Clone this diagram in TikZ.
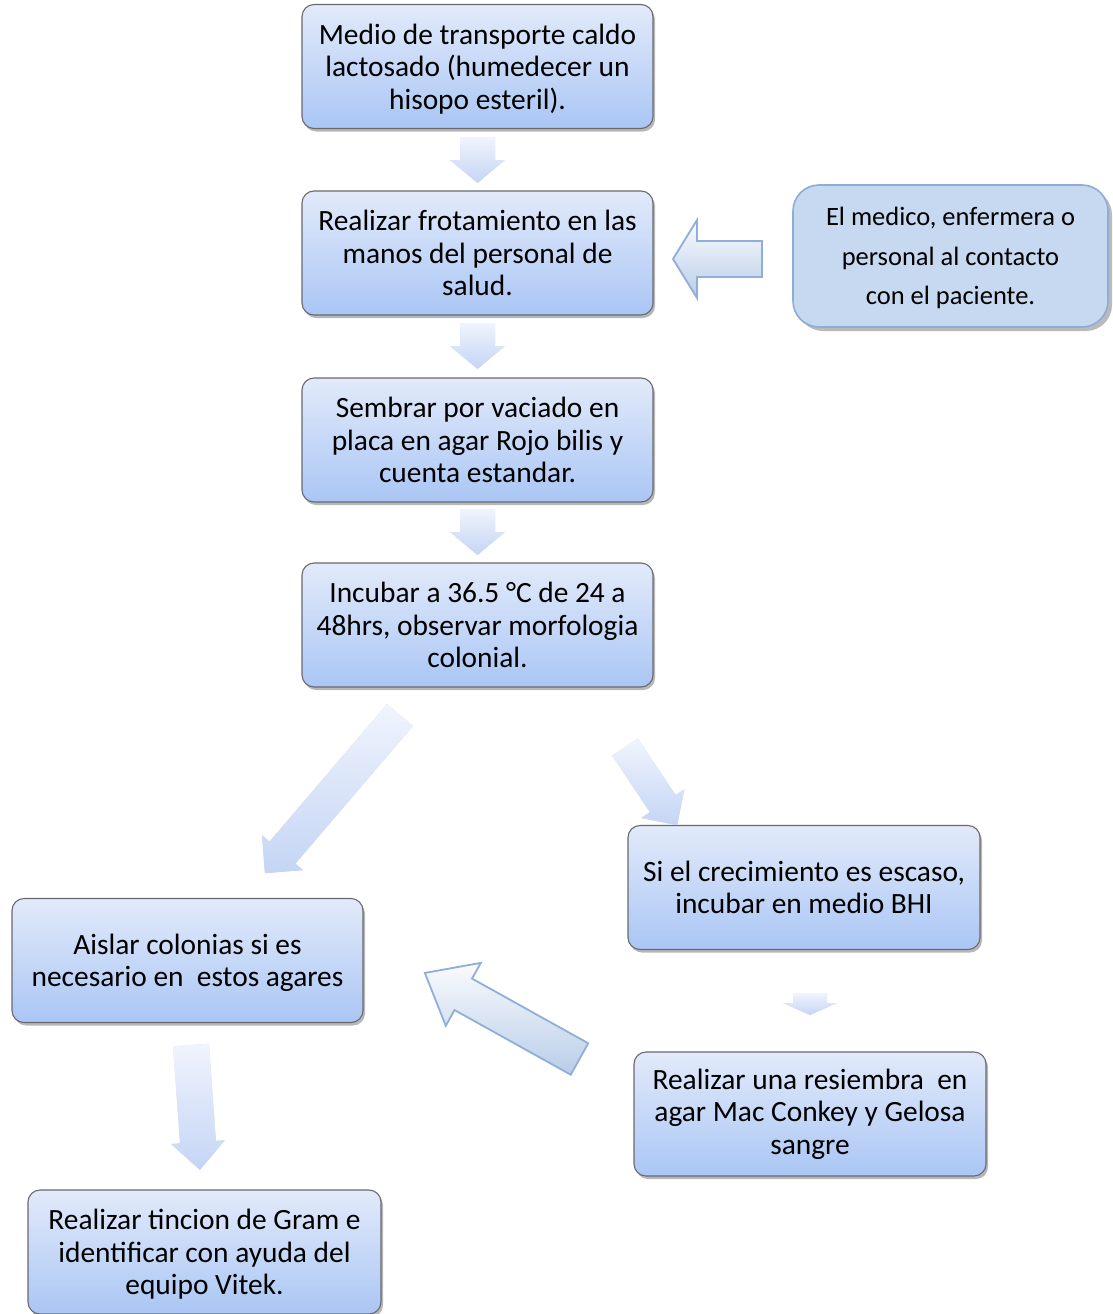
\documentclass[tikz,border=0pt]{standalone}
\usepackage{fontspec}
\setmainfont{Carlito}
\usetikzlibrary{shadows}
\definecolor{boxtop}{RGB}{226,234,250}
\definecolor{boxbot}{RGB}{170,198,245}
\definecolor{boxborder}{RGB}{105,105,110}
\definecolor{sidefill}{RGB}{198,217,241}
\definecolor{sideborder}{RGB}{141,173,214}
\definecolor{arrtop}{RGB}{240,244,253}
\definecolor{arrbot}{RGB}{196,213,245}
\definecolor{larrtop}{RGB}{250,251,254}
\definecolor{larrbot}{RGB}{185,205,232}
\definecolor{larrborder}{RGB}{143,174,218}
\tikzset{
  stepbox/.style={draw=boxborder, line width=1.1pt, rounded corners=12pt,
    top color=boxtop, bottom color=boxbot, minimum height=124pt, inner sep=0pt,
    align=center, font=\fontsize{29.4}{32.5}\selectfont,
    drop shadow={shadow xshift=2pt, shadow yshift=-3pt, opacity=0.4, fill=black!70}},
  sidebox/.style={draw=sideborder, line width=1.6pt, rounded corners=26pt,
    fill=sidefill, minimum width=315pt, minimum height=142pt, inner sep=0pt,
    align=center, font=\fontsize{26.5}{39.5}\selectfont,
    drop shadow={shadow xshift=4pt, shadow yshift=-4pt, opacity=0.6, fill=black!45}},
  softarrow/.style={top color=arrtop, bottom color=arrbot},
  linearrow/.style={top color=larrtop, bottom color=larrbot, draw=larrborder,
    line width=1.8pt, line join=miter},
  arrshadow/.style={fill=black, opacity=0.15},
}
% last line with no depth
\newcommand{\nodepth}[1]{\raisebox{0pt}[\height][0pt]{#1}}
% #1 style, #2 start coordinate, #3 angle, #4 length, #5 shaft half width,
% #6 head half width, #7 head length
\newcommand{\blockarr}[7]{%
  \begin{scope}[xshift=2.5pt, yshift=-3pt, shift={#2}, rotate=#3]
    \fill[arrshadow] (0,#5) -- ({#4-#7},#5) -- ({#4-#7},#6) -- (#4,0)
      -- ({#4-#7},-#6) -- ({#4-#7},-#5) -- (0,-#5) -- cycle;
  \end{scope}
  \begin{scope}[shift={#2}, rotate=#3]
    \path[#1] (0,#5) -- ({#4-#7},#5) -- ({#4-#7},#6) -- (#4,0)
      -- ({#4-#7},-#6) -- ({#4-#7},-#5) -- (0,-#5) -- cycle;
  \end{scope}}
\begin{document}
\begin{tikzpicture}[x=1pt, y=-1pt]
\useasboundingbox (0,0) rectangle (1112,1314);

% boxes
\node[stepbox, minimum width=351pt] (b1) at (477.5,66.5)
  {Medio de transporte caldo\\lactosado (humedecer un\\\nodepth{hisopo esteril).}};
\node[stepbox, minimum width=351pt] (b2) at (477.5,253)
  {Realizar frotamiento en las\\manos del personal de\\salud.};
\node[stepbox, minimum width=351pt] (b3) at (477.5,440)
  {Sembrar por vaciado en\\placa en agar Rojo bilis y\\cuenta estandar.};
\node[stepbox, minimum width=351pt] (b4) at (477.5,625)
  {Incubar a 36.5 °C de 24 a\\48hrs, observar morfologia\\colonial.};
\node[sidebox] (side) at (950.5,256)
  {El medico, enfermera o\\personal al contacto\\\nodepth{con el paciente.}};
\node[stepbox, minimum width=352pt] (b5) at (804,887.5)
  {Si el crecimiento es escaso,\\incubar en medio BHI};
\node[stepbox, minimum width=351pt] (b6) at (187.5,960.5)
  {Aislar colonias si es\\\nodepth{necesario en~ estos agares}};
\node[stepbox, minimum width=352pt] (b7) at (810,1114)
  {Realizar una resiembra~ en\\agar Mac Conkey y Gelosa\\sangre};
\node[stepbox, minimum width=353pt] (b8) at (204.5,1252)
  {Realizar tincion de Gram e\\identificar con ayuda del\\\nodepth{equipo Vitek.}};

% arrow start points
\coordinate (a1s) at (477.5,137);
\coordinate (a2s) at (477.5,323);
\coordinate (a3s) at (477.5,509);
\coordinate (aLs) at (762,259);
\coordinate (aD1s) at (400,715);
\coordinate (aD2s) at (625,747);
\coordinate (aSs) at (810,993);
\coordinate (aBs) at (579.5,1059);
\coordinate (aVs) at (191,1045);

% arrows
\blockarr{softarrow}{(a1s)}{-90}{46}{17.5}{27.5}{23}
\blockarr{softarrow}{(a2s)}{-90}{46}{17.5}{27.5}{23}
\blockarr{softarrow}{(a3s)}{-90}{46}{17.5}{27.5}{23}
\blockarr{linearrow}{(aLs)}{180}{89}{18}{39}{24}
\blockarr{softarrow}{(aD1s)}{-130.5}{208}{17}{27}{27}
\blockarr{softarrow}{(aD2s)}{-56.3}{94}{15.5}{26}{26}
\blockarr{softarrow}{(aSs)}{-90}{22}{17}{27}{12}
\blockarr{linearrow}{(aBs)}{150.9}{177}{18}{36}{44}
\blockarr{softarrow}{(aVs)}{-85.9}{125.3}{18}{27}{28}
\end{tikzpicture}
\end{document}
